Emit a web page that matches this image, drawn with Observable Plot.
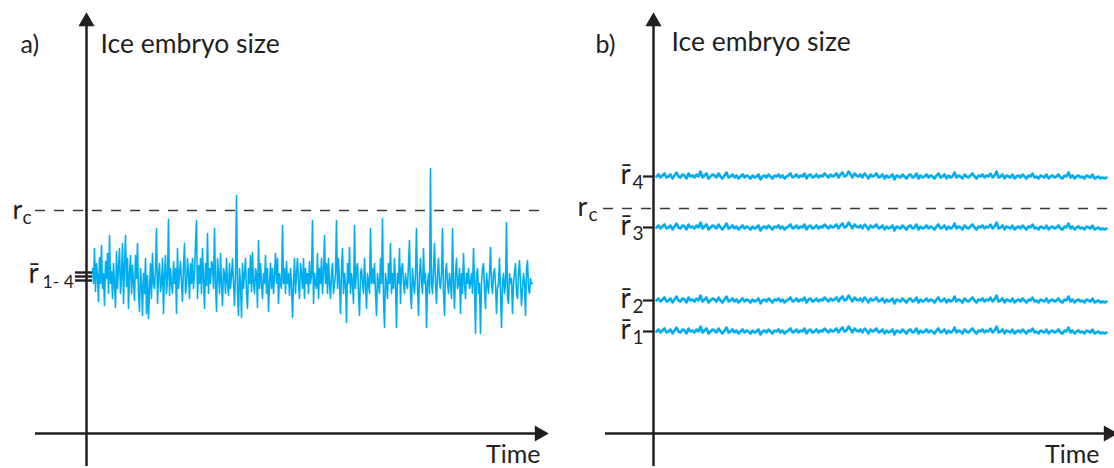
<!DOCTYPE html>
<html><head><meta charset="utf-8">
<script src="https://cdn.jsdelivr.net/npm/d3@7"></script>
<script src="https://cdn.jsdelivr.net/npm/@observablehq/plot@0.6"></script>
<style>
body{margin:0;background:#fff;}
#wrap{display:flex;width:1114px;height:468px;overflow:hidden;}
#wrap svg{flex:none;overflow:visible;}
</style>
</head><body><div id="wrap"></div>
<script>
// Panel a: embryo size (height above the time axis), one sample per time unit
const sizeA = [
165,150,185,142,170,158,132,176,150,188,145,160,128,172,155,180,140,198,150,162,
135,170,150,126,182,145,165,185,140,158,190,130,168,198,147,175,125,160,178,140,
168,150,133,178,155,190,140,122,165,150,118,160,140,175,120,158,115,145,170,135,
180,150,145,165,205,130,158,170,142,150,175,120,160,178,140,155,214,138,165,150,
140,172,150,165,120,185,145,160,172,150,132,168,190,140,148,175,160,135,170,150,
175,145,160,190,213,135,168,150,175,140,185,155,125,170,148,200,140,165,150,172,
168,145,205,150,122,175,160,140,180,150,128,165,160,140,175,150,138,170,145,158,
175,150,128,160,238,140,118,165,150,116,170,145,160,175,140,125,165,150,178,142,
181,150,140,165,160,126,193,145,170,150,135,160,150,178,140,165,122,150,170,145,
165,140,158,180,150,175,130,160,150,145,208,150,165,140,172,150,160,138,165,150,
116,150,175,140,160,175,150,135,170,160,145,175,135,165,150,160,140,172,150,158,
213,130,160,150,145,180,135,165,150,175,140,160,198,150,170,140,175,150,135,160,
170,140,150,160,213,145,175,150,120,165,185,140,160,150,111,170,150,186,140,160,
150,130,208,145,165,170,140,118,160,165,150,140,175,150,125,160,150,140,205,150,
165,150,170,140,118,160,150,140,175,150,215,135,106,160,150,135,170,150,190,140,
160,145,175,150,106,160,150,185,130,165,170,150,140,160,150,145,170,193,140,125,
165,150,140,160,205,145,118,160,175,150,140,185,150,160,106,150,160,140,265,150,
140,165,190,150,130,160,175,150,145,160,205,140,118,160,170,150,140,160,150,135,
205,150,125,160,175,145,150,165,120,160,140,180,150,135,160,150,165,145,150,160,
140,185,150,100,160,165,140,150,100,150,165,170,145,125,160,150,140,160,186,150,
140,160,165,150,120,145,150,175,140,106,150,160,140,150,211,135,130,160,150,155,
120,150,160,170,140,135,160,173,150,128,145,160,150,118,165,173,145,140,155,150,
150
];
const meanTicksA = [161, 157, 153];   // r̄1 … r̄4 (nearly equal)
const rcA = 223;

// Panel b: small fluctuations around each mean size, one sample every 2 time units
const noiseB = [
0,2,-1,1,3,-1,0,2,-2,1,4,0,-1,2,1,-2,3,0,1,-1,
2,0,5,-1,1,3,-2,0,2,1,-1,3,0,-2,1,4,-1,0,2,-1,
1,-2,0,2,-1,1,0,-2,1,-1,0,2,-3,0,1,-1,2,0,-2,1,
0,2,-1,1,-2,0,1,3,-1,0,2,-1,1,0,3,-2,1,2,-1,0,
2,-1,1,0,3,1,-1,2,0,1,3,-1,2,4,0,1,5,2,-1,3,
1,0,2,-1,3,1,-2,2,0,1,3,-1,0,2,-2,1,-1,0,2,-3,
1,0,-1,2,0,-2,1,2,-1,0,3,-2,1,-1,0,2,-1,1,0,-2,
1,3,-1,0,2,-2,1,-1,0,4,-1,1,0,-2,2,0,-1,1,3,0,
-2,1,0,2,-1,1,0,3,-1,1,5,-1,0,2,-2,1,0,-1,2,-2,
0,1,-1,2,0,-2,1,0,3,-1,0,-2,1,0,-1,2,-2,0,1,-1,
0,2,-1,-2,1,0,4,-1,1,-2,0,1,-1,0,-2,1,0,-1,2,-2,
-1,0,-2,-1,-2,-1
];
const levelNames = ["4", "3", "2", "1"];
const levelValues = [257, 206, 133, 102];
const rcB = 225;

const title = "Ice embryo size";
const timeLabel = "Time";

const ink = "#231f20", blue = "#00aeef", dashInk = "#3a3a3a";
const font = "Lato, 'Open Sans', sans-serif";

function frame(xRange) {
  return {
    width: 557, height: 468, margin: 0,
    style: {fontFamily: font, color: ink, background: "transparent", overflow: "visible"},
    x: {type: "linear", domain: [0, 100], range: xRange, axis: null},
    y: {type: "linear", domain: [0, 100], range: [433, 333], axis: null},
  };
}
const txt = {text: d => d, textAnchor: "start", lineAnchor: "bottom", fill: ink};

// ---------- Panel a ----------
const dataA = sizeA.map((v, i) => ({t: 6 + i, h: v}));
const plotA = Plot.plot({
  ...frame([86, 186]),
  marks: [
    Plot.ruleY([rcA], {x1: -51, x2: 454, stroke: dashInk, strokeWidth: 1.6, strokeDasharray: "10,9"}),
    Plot.line(dataA, {x: "t", y: "h", stroke: blue, strokeWidth: 1.6}),
    Plot.ruleY(meanTicksA, {x1: -11, x2: 6, stroke: ink, strokeWidth: 2.4}),
    Plot.ruleX([0], {y1: -33, y2: 408, stroke: ink, strokeWidth: 2.5}),
    Plot.dot([0], {x: 0, y: 412, symbol: "triangle", r: 6, fill: ink, stroke: null}),
    Plot.ruleY([0], {x1: -51, x2: 450, stroke: ink, strokeWidth: 2.5}),
    Plot.dot([0], {x: 453, y: 0, symbol: "triangle", r: 6, rotate: 90, fill: ink, stroke: null}),
    Plot.text(["a)"], {...txt, x: -66, y: 381, fontSize: 25}),
    Plot.text([title], {...txt, x: 14, y: 381, fontSize: 26.5}),
    Plot.text(["r"], {...txt, x: -74, y: rcA, dy: 8, fontSize: 27}),
    Plot.text(["c"], {...txt, x: -64, y: rcA, dy: 13, fontSize: 19}),
    Plot.text(["r\u0304"], {...txt, x: -58, y: 157, dy: 6, fontSize: 28}),
    Plot.text(["1- 4"], {...txt, x: -44, y: 157, dy: 11, fontSize: 17.5}),
    Plot.text([timeLabel], {...txt, x: 454, y: -29, textAnchor: "end", fontSize: 25}),
  ]
});

// ---------- Panel b ----------
const dataB = levelNames.flatMap((name, k) =>
  noiseB.map((n, i) => ({t: 3 + 2 * i, h: levelValues[k] + n, level: name})));
const levelsB = levelNames.map((name, k) => ({name, h: levelValues[k]}));
const plotB = Plot.plot({
  ...frame([96, 196]),
  marks: [
    Plot.ruleY([rcB], {x1: -50, x2: 457, stroke: dashInk, strokeWidth: 1.6, strokeDasharray: "10,9"}),
    Plot.line(dataB, {x: "t", y: "h", z: "level", stroke: blue, strokeWidth: 2.6}),
    Plot.ruleY(levelsB, {y: "h", x1: -10, x2: 0, stroke: ink, strokeWidth: 2.2}),
    Plot.ruleX([0], {y1: -33, y2: 408, stroke: ink, strokeWidth: 2.5}),
    Plot.dot([0], {x: 0, y: 412, symbol: "triangle", r: 6, fill: ink, stroke: null}),
    Plot.ruleY([0], {x1: -48, x2: 453, stroke: ink, strokeWidth: 2.5}),
    Plot.dot([0], {x: 455, y: 0, symbol: "triangle", r: 6, rotate: 90, fill: ink, stroke: null}),
    Plot.text(["b)"], {...txt, x: -58, y: 381, fontSize: 25}),
    Plot.text([title], {...txt, x: 18, y: 383, fontSize: 26.5}),
    Plot.text(["r"], {...txt, x: -76, y: rcB, dy: 7, fontSize: 27}),
    Plot.text(["c"], {...txt, x: -65, y: rcB, dy: 12, fontSize: 19}),
    Plot.text(levelsB, {...txt, x: -33, y: "h", dy: 7, text: () => "r\u0304", fontSize: 28}),
    Plot.text(levelsB, {...txt, x: -21, y: "h", dy: 12, text: "name", fontSize: 19}),
    Plot.text([timeLabel], {...txt, x: 446, y: -29, textAnchor: "end", fontSize: 25}),
  ]
});

document.getElementById("wrap").append(plotA, plotB);
</script>
</body></html>
